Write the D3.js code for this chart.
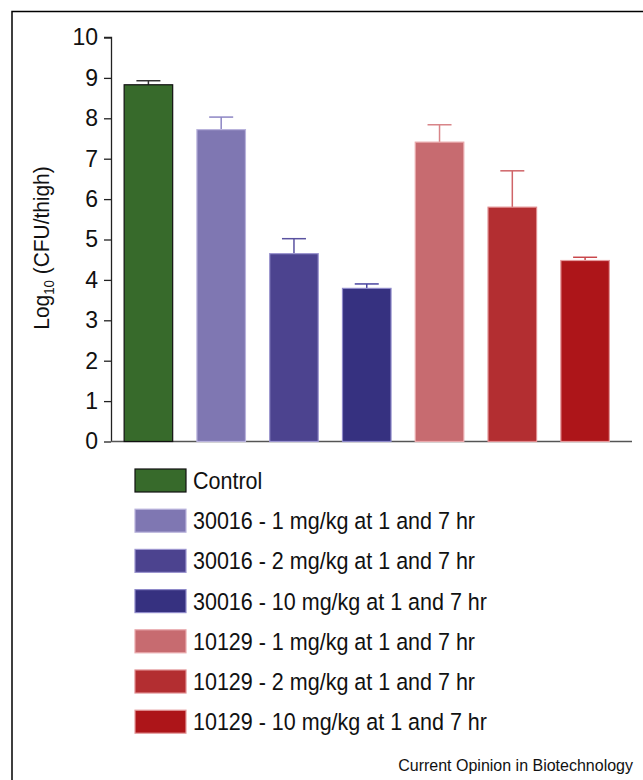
<!DOCTYPE html>
<html>
<head>
<meta charset="utf-8">
<script src="https://cdn.jsdelivr.net/npm/d3@7"></script>
<style>
  body { margin: 0; background: #fff; }
  svg text { font-family: "Liberation Sans", Arial, sans-serif; fill: #111; }
</style>
</head>
<body>
<div id="chart"></div>
<script>
(function() {
  // data
  var groups = ["Control",
    "30016 - 1 mg/kg at 1 and 7 hr",
    "30016 - 2 mg/kg at 1 and 7 hr",
    "30016 - 10 mg/kg at 1 and 7 hr",
    "10129 - 1 mg/kg at 1 and 7 hr",
    "10129 - 2 mg/kg at 1 and 7 hr",
    "10129 - 10 mg/kg at 1 and 7 hr"];
  var means = [8.83, 7.72, 4.65, 3.79, 7.41, 5.80, 4.48];
  var errors = [0.10, 0.31, 0.37, 0.11, 0.43, 0.90, 0.08];
  var fills = ["#376a2b", "#7f77b2", "#4c438f", "#363180", "#c76b70", "#b32e31", "#ad1519"];
  var strokes = ["#111111", "#b9b3dc", "#9c95cf", "#8e89c9", "#e9a9ac", "#e08c8f", "#e49a9c"];
  var errColors = ["#333333", "#8c85c4", "#5a52a0", "#4a45a0", "#d88589", "#cf6468", "#c9474b"];
  var yTicks = [0, 1, 2, 3, 4, 5, 6, 7, 8, 9, 10];

  var width = 643;
  var height = 780;

  var svg = d3.select("#chart")
    .append("svg")
    .attr("width", width)
    .attr("height", height);

  // frame, cropped at right and bottom
  svg.append("path")
    .attr("d", "M12,780 V11.5 H643")
    .attr("fill", "none")
    .attr("stroke", "#000")
    .attr("stroke-width", 1.5);

  var y = d3.scaleLinear().domain([0, 10]).range([441.5, 37.5]);
  var x = d3.scaleBand()
    .domain(groups)
    .range([112, 621.5])
    .paddingInner(0.333)
    .paddingOuter(0.1667);

  // y axis
  var yAxis = d3.axisLeft(y)
    .tickValues(yTicks)
    .tickSize(7)
    .tickPadding(6)
    .tickFormat(d3.format("d"));
  var ya = svg.append("g")
    .attr("transform", "translate(111,0)")
    .call(yAxis);
  ya.select(".domain").attr("stroke", "#222").attr("stroke-width", 1.3)
    .attr("d", "M-7,37.5H0.5V441.5");
  ya.selectAll(".tick line").attr("stroke", "#222").attr("stroke-width", 1.3);
  ya.selectAll(".tick text")
    .attr("font-size", 23)
    .attr("font-family", "Liberation Sans, Arial, sans-serif")
    .attr("fill", "#111");

  // baseline
  svg.append("line")
    .attr("x1", 111).attr("x2", 632)
    .attr("y1", y(0)).attr("y2", y(0))
    .attr("stroke", "#555").attr("stroke-width", 1.5);

  // axis title
  var title = svg.append("text")
    .attr("transform", "translate(49," + 248 + ") rotate(-90) scale(0.95,1)")
    .attr("text-anchor", "middle")
    .attr("font-size", 22);
  title.append("tspan").text("Log");
  title.append("tspan").attr("font-size", 14).attr("dy", 5).text("10");
  title.append("tspan").attr("dy", -5).text(" (CFU/thigh)");

  // error bars (drawn first so the bar sits over the stem)
  var capW = 24;
  var err = svg.append("g");
  groups.forEach(function(g, i) {
    var cx = x(g) + x.bandwidth() / 2;
    err.append("line")
      .attr("x1", cx).attr("x2", cx)
      .attr("y1", y(means[i])).attr("y2", y(means[i] + errors[i]))
      .attr("stroke", errColors[i]).attr("stroke-width", 1.5);
    err.append("line")
      .attr("x1", cx - capW / 2).attr("x2", cx + capW / 2)
      .attr("y1", y(means[i] + errors[i])).attr("y2", y(means[i] + errors[i]))
      .attr("stroke", errColors[i]).attr("stroke-width", 1.5);
  });

  svg.append("g").selectAll("rect")
    .data(groups)
    .enter()
    .append("rect")
    .attr("x", function(d) { return x(d); })
    .attr("y", function(d, i) { return y(means[i]); })
    .attr("width", x.bandwidth())
    .attr("height", function(d, i) { return y(0) - y(means[i]); })
    .attr("fill", function(d, i) { return fills[i]; })
    .attr("stroke", function(d, i) { return strokes[i]; })
    .attr("stroke-width", 1.2);

  // legend
  var legend = svg.append("g");
  var rows = legend.selectAll("g")
    .data(groups)
    .enter()
    .append("g")
    .attr("transform", function(d, i) { return "translate(135," + (469 + i * 40.2) + ")"; });
  rows.append("rect")
    .attr("width", 51)
    .attr("height", 23)
    .attr("fill", function(d, i) { return fills[i]; })
    .attr("stroke", function(d, i) { return strokes[i]; })
    .attr("stroke-width", 1.2);
  rows.append("text")
    .attr("transform", "translate(58,20) scale(0.915,1)")
    .attr("font-size", 23.5)
    .text(function(d) { return d; });

  svg.append("text")
    .attr("x", 633)
    .attr("y", 771)
    .attr("text-anchor", "end")
    .attr("font-size", 16)
    .text("Current Opinion in Biotechnology");
})();
</script>
</body>
</html>
